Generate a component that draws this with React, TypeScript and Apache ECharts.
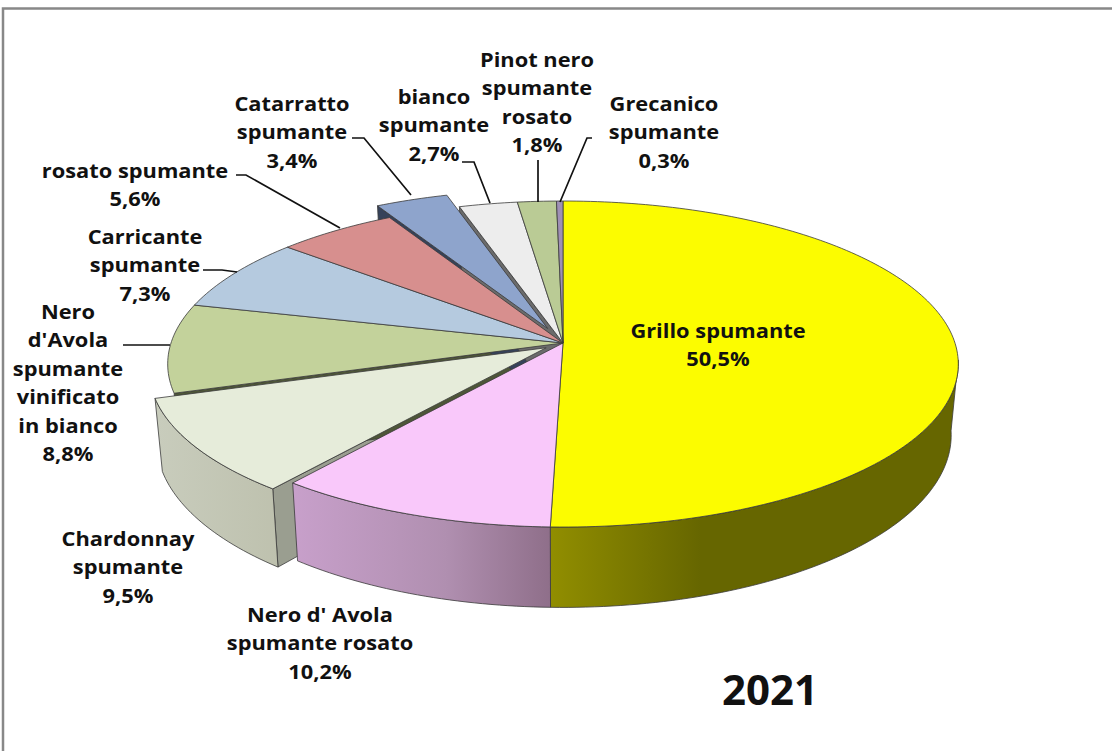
import React, { useEffect, useRef } from "react";
import * as echarts from "echarts";

const names = [
  "Grillo spumante",
  "Nero d' Avola\nspumante rosato",
  "Chardonnay\nspumante",
  "Nero\nd'Avola\nspumante\nvinificato\nin bianco",
  "Carricante\nspumante",
  "rosato spumante",
  "Catarratto\nspumante",
  "bianco\nspumante",
  "Pinot nero\nspumante\nrosato",
  "Grecanico\nspumante",
];
const values = [50.5, 10.2, 9.5, 8.8, 7.3, 5.6, 3.4, 2.7, 1.8, 0.3];
const explode = [0, 0, 0.052, 0, 0, 0, 0.1, 0, 0, 0];
const topColors = ["#FCFC00", "#F9C8FA", "#E6ECDA", "#C3D29B", "#B5CADF", "#D78F8E", "#8EA4CC", "#EDEDED", "#BACB95", "#9F90B5"];
const sideColors = ["#666600", "#8E6E85", "#9A9E90", "#4E5638", "#6F8092", "#7A5050", "#36425A", "#6B6B6B", "#6E7858", "#5A5070"];
const wallVisible = [true, true, true, false, false, false, false, false, false, false];
const yearLabel = "2021";

// label anchor: centre x, first-line y
const labelPos = [
  [718, 330], [320, 614], [128, 538], [68, 311], [145, 236],
  [135, 170], [292, 103], [434, 96], [537, 59], [664, 103],
];
const leaders = [
  [[352, 138], [364, 138], [411, 195]],
  [[462, 162], [474, 162], [490, 203]],
  [[538, 160], [538, 202]],
  [[592, 138], [587, 138], [560, 202]],
  [[236, 175], [246, 175], [340, 228]],
  [[203, 270], [222, 270], [237, 272]],
  [[123, 345], [170, 345]],
];

const CX = 563, CY = 343, RX = 392, RY = 160.3, K = 0.129, DEPTH = 70, SHRINK = 0.018;
const FONT = "'Open Sans', sans-serif";

const total = values.reduce((a, b) => a + b, 0);
const starts: number[] = [];
values.reduce((acc, v, i) => {
  starts[i] = acc;
  return acc + v;
}, 0);

function project(u: number, v: number, h: number) {
  const s = 1 / (1 - K * v);
  return [CX + RX * u * s * (1 - SHRINK * h), CY + RY * v * s + h * DEPTH * s];
}
function sliceGeom(i: number) {
  const a0 = (starts[i] / total) * Math.PI * 2;
  const a1 = ((starts[i] + values[i]) / total) * Math.PI * 2;
  const mid = (a0 + a1) / 2;
  const ou = explode[i] * Math.sin(mid);
  const ov = -explode[i] * Math.cos(mid);
  const steps = Math.max(2, Math.ceil((a1 - a0) / 0.02));
  const arc: number[][] = [];
  for (let k = 0; k <= steps; k++) {
    const a = a0 + ((a1 - a0) * k) / steps;
    arc.push([ou + Math.sin(a), ov - Math.cos(a)]);
  }
  return { ou, ov, arc };
}
const STROKE = "#3A3A3A";

function renderTop(params: any) {
  const i = params.dataIndex;
  const { ou, ov, arc } = sliceGeom(i);
  const points = [project(ou, ov, 0), ...arc.map((p) => project(p[0], p[1], 0))];
  return {
    type: "polygon",
    shape: { points },
    style: { fill: topColors[i], stroke: STROKE, lineWidth: 0.8 },
  };
}
function renderSide(params: any) {
  const i = params.dataIndex;
  // a cut face only shows where a neighbouring slice has been pulled away
  if (!(explode[i] > 0 || explode[i - 1] > 0)) return { type: "group", children: [] };
  const { ou, ov, arc } = sliceGeom(i);
  const p = arc[0];
  const points = [project(ou, ov, 0), project(p[0], p[1], 0), project(p[0], p[1], 1), project(ou, ov, 1)];
  return {
    type: "polygon",
    shape: { points },
    style: { fill: sideColors[i], stroke: STROKE, lineWidth: 0.8 },
  };
}
function wallFill(i: number) {
  if (i === 0)
    return new echarts.graphic.LinearGradient(550, 0, 958, 0, [
      { offset: 0, color: "#918E00" },
      { offset: 0.37, color: "#666600" },
      { offset: 1, color: "#666600" },
    ], true);
  if (i === 1)
    return new echarts.graphic.LinearGradient(290, 0, 550, 0, [
      { offset: 0, color: "#C8A0CB" },
      { offset: 0.6, color: "#B08FB0" },
      { offset: 1, color: "#8F6F8A" },
    ], true);
  return new echarts.graphic.LinearGradient(158, 0, 280, 0, [
    { offset: 0, color: "#C8CCBC" },
    { offset: 1, color: "#BEC1AE" },
  ], true);
}
function renderWall(params: any) {
  const i = params.dataIndex;
  if (!wallVisible[i]) return { type: "group", children: [] };
  const { arc } = sliceGeom(i);
  const front = arc.filter((p) => p[1] > 0.1);
  const points = [
    ...front.map((p) => project(p[0], p[1], 0)),
    ...front.slice().reverse().map((p) => project(p[0], p[1], 1)),
  ];
  return {
    type: "polygon",
    shape: { points },
    style: { fill: wallFill(i), stroke: STROKE, lineWidth: 0.8 },
  };
}

const pct = (v: number) => v.toFixed(1).replace(".", ",") + "%";

export default function App() {
  const ref = useRef<HTMLDivElement>(null);
  useEffect(() => {
    const chart = echarts.init(ref.current!, undefined, { renderer: "svg" });
    const data = values.map((v, i) => ({ name: names[i].replace(/\n/g, " "), value: v }));
    const labels = names.map((n, i) => ({
      type: "text",
      x: labelPos[i][0],
      y: labelPos[i][1] - 14,
      scaleX: 1.12,
      z: 20,
      style: {
        text: n + "\n" + pct(values[i]),
        font: `bold 19.5px ${FONT}`,
        fill: "#111",
        align: "center",
        verticalAlign: "top",
        lineHeight: 28.5,
      },
    }));
    const lines = leaders.map((pts) => ({
      type: "polyline",
      z: 19,
      shape: { points: pts },
      style: { fill: "none", stroke: "#111", lineWidth: 1.7 },
    }));
    chart.setOption({
      animation: false,
      backgroundColor: "#ffffff",
      series: [
        { type: "custom", coordinateSystem: "none", z: 2, silent: true, renderItem: renderSide, data },
        { type: "custom", coordinateSystem: "none", z: 3, silent: true, renderItem: renderWall, data },
        { type: "custom", coordinateSystem: "none", z: 4, silent: true, renderItem: renderTop, data },
      ],
      graphic: [
        {
          type: "polyline",
          z: 1,
          shape: { points: [[3, 751], [3, 8.5], [1112, 8.5]] },
          style: { fill: "none", stroke: "#888888", lineWidth: 2.5 },
        },
        ...lines,
        ...labels,
        {
          type: "text",
          x: 770,
          y: 688,
          z: 20,
          style: {
            text: yearLabel,
            font: `bold 42px ${FONT}`,
            fill: "#111",
            align: "center",
            verticalAlign: "middle",
          },
        },
      ],
    });
    return () => chart.dispose();
  }, []);
  return <div ref={ref} style={{ position: "absolute", left: 0, top: 0, width: 1112, height: 751 }} />;
}
